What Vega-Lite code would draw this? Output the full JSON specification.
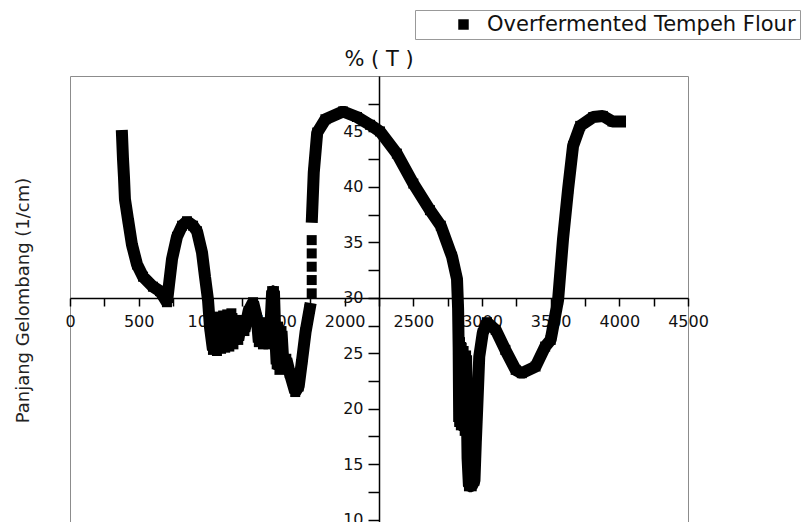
{
  "$schema": "https://vega.github.io/schema/vega-lite/v6.json",
  "width": 618,
  "height": 448,
  "autosize": {"type": "none"},
  "padding": {"left": 70, "top": 76, "right": 118, "bottom": 0},
  "config": {
    "font": "DejaVu Sans",
    "view": {"stroke": "#8c8c8c", "strokeWidth": 1},
    "axis": {
      "domainColor": "black",
      "tickColor": "black",
      "labelColor": "#111",
      "grid": false,
      "domainWidth": 1.5,
      "tickWidth": 1.5,
      "labelFont": "DejaVu Sans",
      "labelFontSize": 16,
      "titleFont": "DejaVu Sans",
      "titleFontWeight": "normal",
      "titleColor": "#222",
      "labelOverlap": false,
      "labelBound": false,
      "labelFlush": false
    }
  },
  "title": {"text": "% ( T )", "fontSize": 21, "fontWeight": "normal", "font": "DejaVu Sans", "offset": 6, "dy": 66, "color": "#111"},
  "data": {
    "values": [
      {"wavenumber": 379, "T": 44.6, "seg": "a"},
      {"wavenumber": 386, "T": 42.5, "seg": "a"},
      {"wavenumber": 393, "T": 40.9, "seg": "a"},
      {"wavenumber": 400, "T": 38.9, "seg": "a"},
      {"wavenumber": 422, "T": 37.1, "seg": "a"},
      {"wavenumber": 451, "T": 34.8, "seg": "a"},
      {"wavenumber": 488, "T": 33.0, "seg": "a"},
      {"wavenumber": 532, "T": 31.9, "seg": "a"},
      {"wavenumber": 604, "T": 31.0, "seg": "a"},
      {"wavenumber": 655, "T": 30.6, "seg": "a"},
      {"wavenumber": 706, "T": 29.6, "seg": "a"},
      {"wavenumber": 721, "T": 31.2, "seg": "a"},
      {"wavenumber": 743, "T": 33.5, "seg": "a"},
      {"wavenumber": 779, "T": 35.5, "seg": "a"},
      {"wavenumber": 816, "T": 36.5, "seg": "a"},
      {"wavenumber": 852, "T": 36.9, "seg": "a"},
      {"wavenumber": 896, "T": 36.5, "seg": "a"},
      {"wavenumber": 925, "T": 36.0, "seg": "a"},
      {"wavenumber": 961, "T": 34.1, "seg": "a"},
      {"wavenumber": 983, "T": 31.9, "seg": "a"},
      {"wavenumber": 1005, "T": 29.8, "seg": "a"},
      {"wavenumber": 1019, "T": 27.4, "seg": "a"},
      {"wavenumber": 1041, "T": 25.3, "seg": "a"},
      {"wavenumber": 1055, "T": 28.0, "seg": "a"},
      {"wavenumber": 1070, "T": 25.2, "seg": "a"},
      {"wavenumber": 1085, "T": 28.3, "seg": "a"},
      {"wavenumber": 1100, "T": 25.4, "seg": "a"},
      {"wavenumber": 1115, "T": 28.4, "seg": "a"},
      {"wavenumber": 1130, "T": 25.5, "seg": "a"},
      {"wavenumber": 1145, "T": 28.5, "seg": "a"},
      {"wavenumber": 1160, "T": 25.6, "seg": "a"},
      {"wavenumber": 1175, "T": 28.6, "seg": "a"},
      {"wavenumber": 1190, "T": 25.8, "seg": "a"},
      {"wavenumber": 1210, "T": 28.0, "seg": "a"},
      {"wavenumber": 1225, "T": 26.2, "seg": "a"},
      {"wavenumber": 1250, "T": 28.0, "seg": "a"},
      {"wavenumber": 1270, "T": 27.0, "seg": "a"},
      {"wavenumber": 1300, "T": 28.8, "seg": "a"},
      {"wavenumber": 1333, "T": 29.6, "seg": "a"},
      {"wavenumber": 1360, "T": 28.2, "seg": "a"},
      {"wavenumber": 1375, "T": 26.0, "seg": "a"},
      {"wavenumber": 1390, "T": 27.8, "seg": "a"},
      {"wavenumber": 1405, "T": 25.8, "seg": "a"},
      {"wavenumber": 1425, "T": 26.2, "seg": "a"},
      {"wavenumber": 1445, "T": 25.8, "seg": "a"},
      {"wavenumber": 1460, "T": 27.5, "seg": "a"},
      {"wavenumber": 1472, "T": 30.6, "seg": "a"},
      {"wavenumber": 1485, "T": 30.6, "seg": "a"},
      {"wavenumber": 1495, "T": 26.5, "seg": "a"},
      {"wavenumber": 1505, "T": 24.0, "seg": "a"},
      {"wavenumber": 1515, "T": 27.4, "seg": "a"},
      {"wavenumber": 1525, "T": 23.5, "seg": "a"},
      {"wavenumber": 1540, "T": 27.0, "seg": "a"},
      {"wavenumber": 1555, "T": 23.8, "seg": "a"},
      {"wavenumber": 1575, "T": 24.5, "seg": "a"},
      {"wavenumber": 1600, "T": 23.2, "seg": "a"},
      {"wavenumber": 1640, "T": 21.5, "seg": "a"},
      {"wavenumber": 1665, "T": 22.0, "seg": "a"},
      {"wavenumber": 1690, "T": 24.4, "seg": "a"},
      {"wavenumber": 1715, "T": 26.9, "seg": "a"},
      {"wavenumber": 1745, "T": 29.0, "seg": "a"},
      {"wavenumber": 1760, "T": 30.4, "seg": "d"},
      {"wavenumber": 1760, "T": 31.6, "seg": "d"},
      {"wavenumber": 1760, "T": 32.8, "seg": "d"},
      {"wavenumber": 1760, "T": 34.0, "seg": "d"},
      {"wavenumber": 1760, "T": 35.2, "seg": "d"},
      {"wavenumber": 1762, "T": 37.3, "seg": "b"},
      {"wavenumber": 1775, "T": 41.3, "seg": "b"},
      {"wavenumber": 1800, "T": 44.9, "seg": "b"},
      {"wavenumber": 1860, "T": 46.1, "seg": "b"},
      {"wavenumber": 1988, "T": 46.8, "seg": "b"},
      {"wavenumber": 2090, "T": 46.3, "seg": "b"},
      {"wavenumber": 2185, "T": 45.6, "seg": "b"},
      {"wavenumber": 2257, "T": 45.0, "seg": "b"},
      {"wavenumber": 2380, "T": 43.0, "seg": "b"},
      {"wavenumber": 2500, "T": 40.3, "seg": "b"},
      {"wavenumber": 2621, "T": 37.9, "seg": "b"},
      {"wavenumber": 2700, "T": 36.5, "seg": "b"},
      {"wavenumber": 2782, "T": 33.7, "seg": "b"},
      {"wavenumber": 2818, "T": 31.7, "seg": "b"},
      {"wavenumber": 2826, "T": 29.0, "seg": "b"},
      {"wavenumber": 2830, "T": 25.5, "seg": "b"},
      {"wavenumber": 2834, "T": 18.8, "seg": "b"},
      {"wavenumber": 2840, "T": 26.0, "seg": "b"},
      {"wavenumber": 2846, "T": 18.5, "seg": "b"},
      {"wavenumber": 2852, "T": 25.5, "seg": "b"},
      {"wavenumber": 2858, "T": 19.5, "seg": "b"},
      {"wavenumber": 2866, "T": 25.2, "seg": "b"},
      {"wavenumber": 2874, "T": 18.0, "seg": "b"},
      {"wavenumber": 2884, "T": 24.8, "seg": "b"},
      {"wavenumber": 2895, "T": 15.5, "seg": "b"},
      {"wavenumber": 2905, "T": 13.0, "seg": "b"},
      {"wavenumber": 2925, "T": 13.0, "seg": "b"},
      {"wavenumber": 2945, "T": 13.5, "seg": "b"},
      {"wavenumber": 2955, "T": 17.0, "seg": "b"},
      {"wavenumber": 2965, "T": 20.0, "seg": "b"},
      {"wavenumber": 2980, "T": 24.7, "seg": "b"},
      {"wavenumber": 3005, "T": 26.8, "seg": "b"},
      {"wavenumber": 3036, "T": 27.8, "seg": "b"},
      {"wavenumber": 3100, "T": 27.1, "seg": "b"},
      {"wavenumber": 3170, "T": 25.3, "seg": "b"},
      {"wavenumber": 3245, "T": 23.5, "seg": "b"},
      {"wavenumber": 3290, "T": 23.2, "seg": "b"},
      {"wavenumber": 3390, "T": 23.8, "seg": "b"},
      {"wavenumber": 3460, "T": 25.6, "seg": "b"},
      {"wavenumber": 3500, "T": 26.2, "seg": "b"},
      {"wavenumber": 3554, "T": 29.8, "seg": "b"},
      {"wavenumber": 3590, "T": 35.3, "seg": "b"},
      {"wavenumber": 3627, "T": 39.8, "seg": "b"},
      {"wavenumber": 3663, "T": 43.7, "seg": "b"},
      {"wavenumber": 3715, "T": 45.5, "seg": "b"},
      {"wavenumber": 3810, "T": 46.3, "seg": "b"},
      {"wavenumber": 3880, "T": 46.4, "seg": "b"},
      {"wavenumber": 3950, "T": 45.9, "seg": "b"},
      {"wavenumber": 4005, "T": 45.9, "seg": "b"}
    ]
  },
  "encoding": {
    "x": {
      "field": "wavenumber",
      "type": "quantitative",
      "scale": {"domain": [0, 4500], "nice": false, "zero": false},
      "axis": {
        "title": null,
        "orient": "bottom",
        "offset": -226,
        "values": [0, 250, 500, 750, 1000, 1250, 1500, 1750, 2000, 2250, 2500, 2750, 3000, 3250, 3500, 3750, 4000, 4250, 4500],
        "format": "d",
        "labelExpr": "datum.value % 500 === 0 ? datum.label : ''",
        "tickSize": 8,
        "labelPadding": 7,
        "encode": {"ticks": {"update": {"y2": {"signal": "datum.value % 500 === 0 ? 8 : 5"}}}}
      }
    },
    "y": {
      "field": "T",
      "type": "quantitative",
      "scale": {"domain": [9.6, 50], "nice": false, "zero": false},
      "axis": {
        "title": "Panjang Gelombang (1/cm)",
        "orient": "left",
        "offset": -309,
        "values": [10, 12.5, 15, 17.5, 20, 22.5, 25, 27.5, 30, 32.5, 35, 37.5, 40, 42.5, 45, 47.5],
        "format": "~g",
        "labelExpr": "datum.value % 5 === 0 ? datum.label : ''",
        "tickSize": 11,
        "labelPadding": 5,
        "titleX": -351,
        "titleBaseline": "alphabetic",
        "titleFontSize": 18,
        "titleAngle": 270,
        "encode": {"ticks": {"update": {"x2": {"signal": "datum.value % 5 === 0 ? -11 : -6"}}}}
      }
    }
  },
  "layer": [
    {
      "transform": [{"filter": "datum.seg !== 'd'"}],
      "mark": {"type": "line", "color": "black", "strokeWidth": 12, "strokeJoin": "bevel", "strokeCap": "square"},
      "encoding": {"detail": {"field": "seg", "type": "nominal"}}
    },
    {
      "mark": {"type": "point", "shape": "square", "filled": true, "size": 100, "color": "black", "opacity": 1},
      "encoding": {
        "shape": {
          "datum": "Overfermented Tempeh Flour",
          "type": "nominal",
          "scale": {"range": ["square"]},
          "legend": {
            "orient": "none",
            "legendX": 345,
            "legendY": -66,
            "title": null,
            "padding": 4,
            "symbolOffset": 34,
            "labelOffset": 13,
            "labelFontSize": 21,
            "labelFont": "DejaVu Sans",
            "labelColor": "#111",
            "labelLimit": 0,
            "symbolSize": 110,
            "symbolType": "square",
            "symbolFillColor": "black",
            "symbolStrokeColor": "black",
            "strokeColor": "#999",
            "fillColor": "white"
          }
        }
      }
    }
  ]
}
